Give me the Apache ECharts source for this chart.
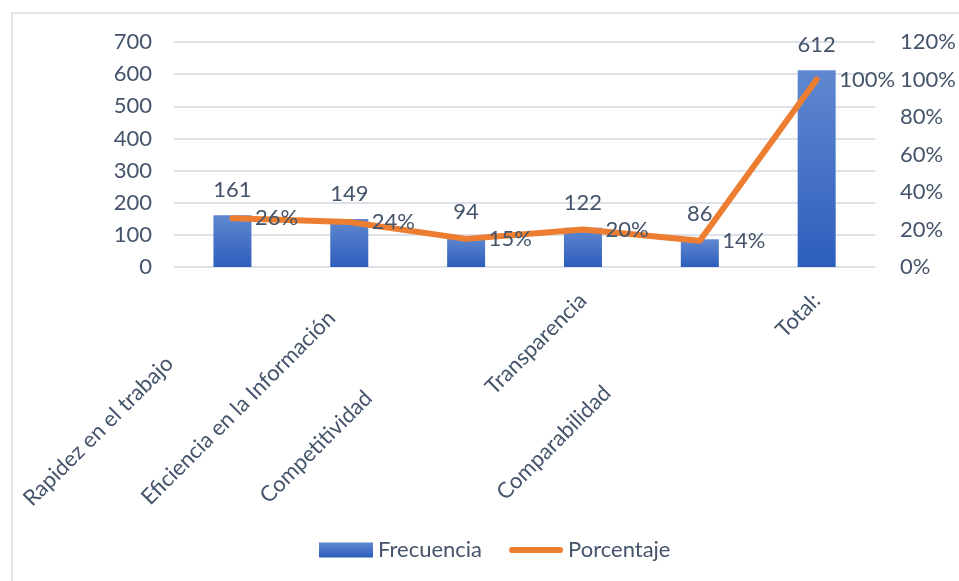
<!DOCTYPE html>
<html lang="es">
<head>
    <meta charset="UTF-8">
    <title>Frecuencia y Porcentaje</title>
    <style>
        html, body { margin: 0; padding: 0; background: #fff; }
        #chart { width: 959px; height: 581px; }
    </style>
</head>
<body>
    <div id="chart"></div>
    <script src="https://cdn.jsdelivr.net/npm/echarts@6/dist/echarts.min.js"></script>
    <script>
        const categorias = ['Rapidez en el trabajo', 'Eficiencia en la Información', 'Competitividad', 'Transparencia', 'Comparabilidad', 'Total:']
        const frecuencia = [161, 149, 94, 122, 86, 612]
        const porcentaje = [0.26, 0.24, 0.15, 0.20, 0.14, 1.00]

        const textColor = '#44546a'
        const font = 'Lato, "Open Sans", sans-serif'
        // Excel escalona las etiquetas del eje; se imita con relleno a la derecha
        const labelPad = [89, 25, 138, 0, 131, 0]

        const rich = {}
        labelPad.forEach((p, i) => {
            rich['p' + i] = { padding: [0, p, 0, 0], fontSize: 22, fontFamily: font, color: textColor }
        })

        const chart = echarts.init(document.getElementById('chart'))
        chart.setOption({
            animation: false,
            textStyle: { fontFamily: font },
            graphic: [{
                type: 'rect',
                shape: { x: 12, y: 13, width: 1000, height: 700 },
                style: { fill: 'none', stroke: '#e1e5eb', lineWidth: 2 },
                silent: true
            }],
            grid: { left: 174, right: 81, top: 42, bottom: 314, containLabel: false },
            legend: {
                bottom: 15,
                left: 314,
                itemGap: 27,
                itemWidth: 54,
                itemHeight: 15,
                textStyle: { color: textColor, fontSize: 22, fontFamily: font },
                data: [
                    { name: 'Frecuencia', icon: 'rect' },
                    { name: 'Porcentaje', icon: 'path://M3,0 L51,0 A3,3 0 0 1 51,6 L3,6 A3,3 0 0 1 3,0 Z' }
                ]
            },
            xAxis: {
                type: 'category',
                data: categorias,
                axisLine: { show: false },
                axisTick: { show: false },
                axisLabel: {
                    interval: 0,
                    rotate: 45,
                    margin: 30,
                    formatter: (v, i) => `{p${i}|${v}}`,
                    rich
                }
            },
            yAxis: [{
                type: 'value',
                min: 0,
                max: 700,
                interval: 100,
                axisLine: { show: false },
                axisTick: { show: false },
                axisLabel: { color: textColor, fontSize: 22, margin: 22, fontFamily: font },
                splitLine: { lineStyle: { color: '#dde2e9', width: 2 } }
            }, {
                type: 'value',
                min: 0,
                max: 1.2,
                interval: 0.2,
                axisLine: { show: false },
                axisTick: { show: false },
                splitLine: { show: false },
                axisLabel: {
                    color: textColor,
                    fontSize: 22,
                    margin: 25,
                    fontFamily: font,
                    formatter: v => Math.round(v * 100) + '%'
                }
            }],
            series: [{
                name: 'Frecuencia',
                type: 'bar',
                data: frecuencia,
                barWidth: 38,
                itemStyle: {
                    color: new echarts.graphic.LinearGradient(0, 0, 0, 1, [
                        { offset: 0, color: '#6088d0' },
                        { offset: 1, color: '#2d5ebd' }
                    ])
                },
                label: {
                    show: true,
                    position: 'top',
                    distance: 14,
                    color: textColor,
                    fontSize: 22,
                    fontFamily: font
                }
            }, {
                name: 'Porcentaje',
                type: 'line',
                yAxisIndex: 1,
                data: porcentaje,
                symbol: 'circle',
                symbolSize: 1,
                showSymbol: true,
                lineStyle: { color: '#ed7d31', width: 6, cap: 'round', join: 'round' },
                itemStyle: { color: '#ed7d31' },
                label: {
                    show: true,
                    position: 'right',
                    distance: 22,
                    color: textColor,
                    fontSize: 22,
                    fontFamily: font,
                    formatter: p => Math.round(p.value * 100) + '%'
                }
            }]
        })
    </script>
</body>
</html>
